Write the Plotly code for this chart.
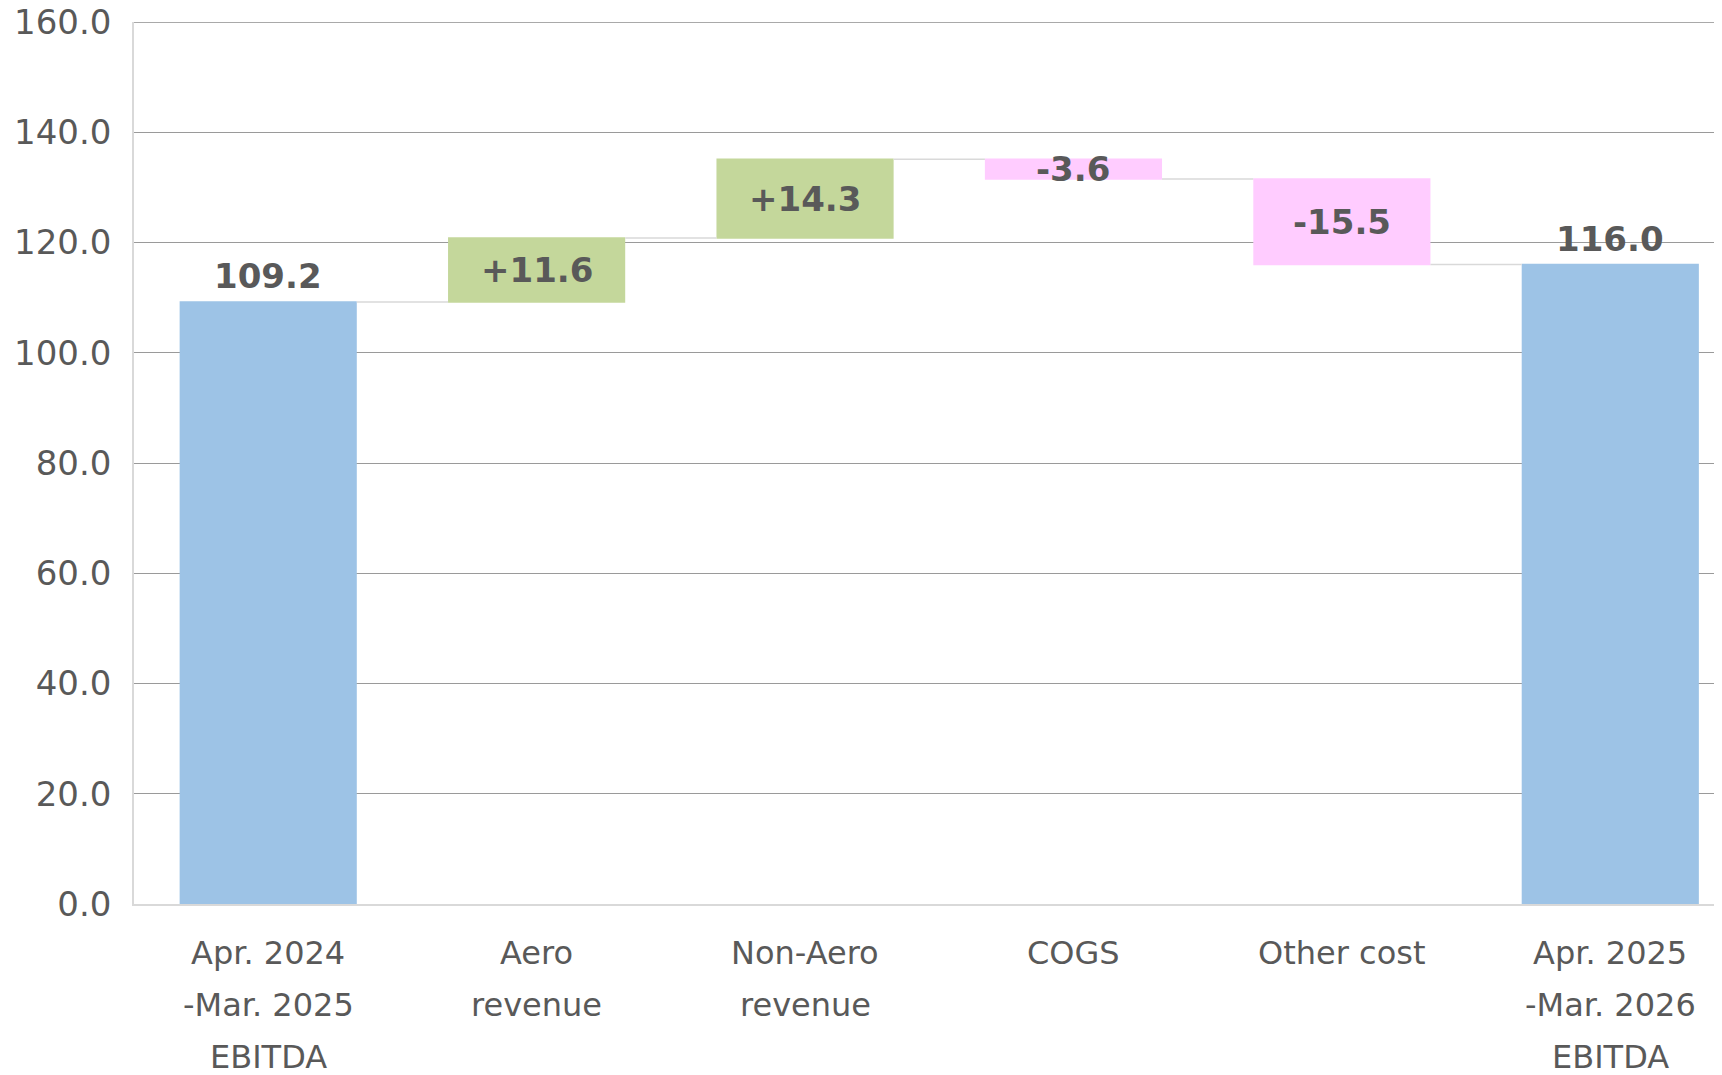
import plotly.graph_objects as go

categories = ["Apr. 2024<br>-Mar. 2025<br>EBITDA", "Aero<br>revenue", "Non-Aero<br>revenue",
              "COGS", "Other cost", "Apr. 2025<br>-Mar. 2026<br>EBITDA"]
measures = ["absolute", "relative", "relative", "relative", "relative", "total"]
values = [109.2, 11.6, 14.3, -3.6, -15.5, 0]
y_ticks = [0, 20, 40, 60, 80, 100, 120, 140, 160]

TOTAL_C = "#9DC3E6"
INC_C = "#C4D79B"
DEC_C = "#FFCCFF"
TXT_C = "#595959"
GRID_C = "#9a9a9a"
FONT = "DejaVu Sans"

fig = go.Figure(go.Waterfall(
    x=list(range(len(categories))),
    y=values,
    measure=measures,
    width=[0.66] * len(categories),
    totals=dict(marker=dict(color=TOTAL_C, line=dict(width=0))),
    increasing=dict(marker=dict(color=INC_C, line=dict(width=0))),
    decreasing=dict(marker=dict(color=DEC_C, line=dict(width=0))),
    connector=dict(mode="between", line=dict(color="#d9d9d9", width=1.5)),
    textposition="none",
    hoverinfo="skip",
))

annotations = []
running = 0.0
for i, (m, v) in enumerate(zip(measures, values)):
    if m in ("absolute", "total"):
        if m == "absolute":
            running = v
        annotations.append(dict(x=i, y=running, text=f"<b>{running:.1f}</b>", showarrow=False,
                                yanchor="bottom", yshift=4, font=dict(size=34, color=TXT_C, family=FONT)))
    else:
        mid = running + v / 2
        running += v
        annotations.append(dict(x=i, y=mid, text=f"<b>{v:+.1f}</b>", showarrow=False,
                                yanchor="middle", font=dict(size=34, color=TXT_C, family=FONT)))
    # category label lines
    for j, line in enumerate(categories[i].split("<br>")):
        annotations.append(dict(x=i, y=0, text=line, showarrow=False, yanchor="middle",
                                yshift=-49 - j * 52, font=dict(size=32, color=TXT_C, family=FONT)))

fig.update_layout(
    width=1722, height=1075,
    margin=dict(l=126, r=0, t=14, b=179, autoexpand=False),
    paper_bgcolor="white", plot_bgcolor="white",
    showlegend=False,
    annotations=annotations,
    font=dict(family=FONT, color=TXT_C),
    shapes=[dict(type="line", xref="paper", x0=0, x1=1, yref="y", y0=y_ticks[-1], y1=y_ticks[-1],
                 line=dict(color="#8c8c8c", width=1.3), layer="above")],
)
fig.update_xaxes(range=[-0.5, 5.446], showticklabels=False, showgrid=False, zeroline=False,
                 showline=True, linecolor="#d9d9d9", linewidth=2, ticks="", automargin=False)
fig.update_yaxes(range=[0, 160], tickvals=y_ticks, ticktext=[f"{t:.1f}" for t in y_ticks],
                 showgrid=True, gridcolor=GRID_C, gridwidth=1, zeroline=False,
                 showline=True, linecolor="#d9d9d9", linewidth=1.5, automargin=False,
                 ticks="", ticklabelstandoff=14, ticklabeloverflow="allow",
                 tickfont=dict(size=34, color=TXT_C, family=FONT))

fig.write_html("out.html")
